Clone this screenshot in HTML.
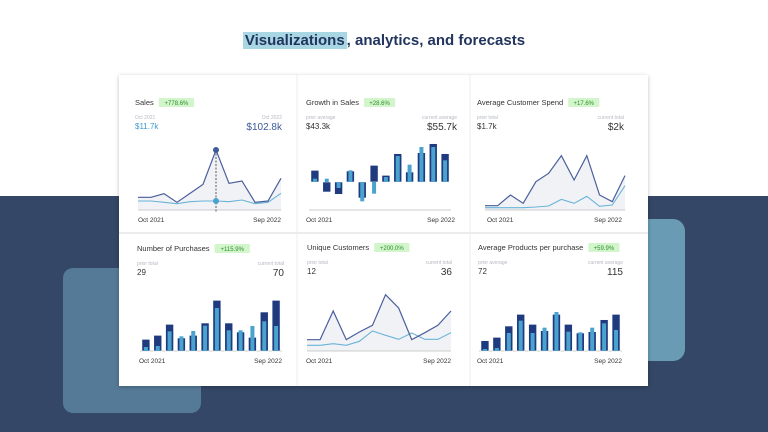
<!DOCTYPE html>
<html><head><meta charset="utf-8"><style>
*{margin:0;padding:0;box-sizing:border-box}
body{width:768px;height:432px;overflow:hidden;position:relative;background:#fff;font-family:"Liberation Sans",sans-serif}
.abs{position:absolute}
</style></head><body>
<div class="abs" style="left:0;top:196px;width:768px;height:236px;background:#344766"></div>
<div class="abs" style="left:63px;top:268px;width:138px;height:145px;background:#557a98;border-radius:10px"></div>
<div class="abs" style="left:600px;top:219px;width:85px;height:142px;background:#6a9bb5;border-radius:12px"></div>
<div class="abs" style="left:0;top:32px;width:768px;text-align:center;font-size:15px;font-weight:bold;color:#22355e"><span style="background:#a9d6e3;padding:0 2px">Visualizations</span>, analytics, and forecasts</div>
<div class="abs" style="left:119px;top:75px;width:529px;height:311px;background:#fff;box-shadow:0 1px 4px rgba(0,0,0,.25)"></div>
<svg class="abs" style="left:0;top:0" width="768" height="432" id="svg">
<line x1="297" y1="75" x2="297" y2="386" stroke="#ececec"/>
<line x1="470" y1="75" x2="470" y2="386" stroke="#ececec"/>
<line x1="119" y1="233" x2="648" y2="233" stroke="#ececec" stroke-width="2"/>
</svg>
<script>
const NS="http://www.w3.org/2000/svg";
const svg=document.getElementById('svg');
// Data
const months=["Oct 2021","Nov 2021","Dec 2021","Jan 2022","Feb 2022","Mar 2022","Apr 2022","May 2022","Jun 2022","Jul 2022","Aug 2022","Sep 2022"];
const salesCurrent=[38,38,49,23,50,77,180,80,87,23,27,95];
const salesPrior=[27,27,23,19,25,27,27,25,30,19,23,50];
const growthCurrent=[35,-30,-37,33,-48,50,20,85,30,88,115,85];
const growthPrior=[10,10,-18,35,-58,-35,15,78,52,105,105,65];
const spendCurrent=[13,13,45,20,85,110,163,90,163,45,25,103];
const spendPrior=[7,7,7,7,9,12,32,20,41,11,15,73];
const purchCurrent=[35,47,80,39,47,84,152,84,57,41,117,152];
const purchPrior=[12,15,59,44,60,76,129,62,62,75,89,75];
const custCurrent=[34,34,120,34,57,77,169,129,34,55,77,120];
const custPrior=[17,17,22,17,29,60,47,35,54,35,35,55];
const prodCurrent=[31,41,75,110,80,61,110,80,54,58,94,110];
const prodPrior=[6,9,54,91,54,70,117,58,56,70,83,63];

function el(tag,attrs,name,text){const e=document.createElementNS(NS,tag);for(const k in attrs)e.setAttribute(k,attrs[k]);


if(text!==undefined)e.textContent=text;svg.appendChild(e);return e;}

function header(x,y,right,title,badge,lab1,v1,lab2,v2,c1,c2,big){
  const t=el('text',{x:x,y:y,'font-size':7.5,fill:'#333'},'panel-title',title);
  const w=t.getComputedTextLength();
  const bw=badge.length*4.2+6;
  el('rect',{x:x+w+5,y:y-7,width:bw,height:9,fill:'#d3f5cc',rx:1},'change-badge');
  el('text',{x:x+w+5+bw/2,y:y,'font-size':6,fill:'#2c8f2c','text-anchor':'middle'},'change-badge-text',badge);
  el('text',{x:x,y:y+14,'font-size':5,fill:'#b5b9c2'},'prior-label',lab1);
  el('text',{x:x,y:y+24,'font-size':8,fill:c1||'#333'},'prior-value',v1);
  el('text',{x:right,y:y+14,'font-size':5,fill:'#b5b9c2','text-anchor':'end'},'current-label',lab2);
  el('text',{x:right,y:y+25,'font-size':big||10,fill:c2||'#333','text-anchor':'end'},'current-value',v2);
}
function axisLabels(x0,x1,y){
  el('text',{x:x0,y:y,'font-size':6.5,fill:'#333'},'x-axis-start-label',months[0]);
  el('text',{x:x1,y:y,'font-size':6.5,fill:'#333','text-anchor':'end'},'x-axis-end-label',months[11]);
}
function linePanel(x0,x1,base,scale,cur,pri,name,hi){
  const xs=i=>x0+(x1-x0)*i/(cur.length-1);
  const ys=v=>base-v*scale;
  let d='M'+xs(0)+','+base;cur.forEach((v,i)=>d+=' L'+xs(i)+','+ys(v));d+=' L'+xs(cur.length-1)+','+base+'Z';
  el('path',{d:d,fill:'#f1f2f6'},name+'-area');
  el('line',{x1:x0,y1:base,x2:x1,y2:base,stroke:'#bbb','stroke-width':0.8},name+'-baseline');
  el('polyline',{points:pri.map((v,i)=>xs(i)+','+ys(v)).join(' '),fill:'none',stroke:'#6ab4d8','stroke-width':1.1},name+'-prior-line');
  el('polyline',{points:cur.map((v,i)=>xs(i)+','+ys(v)).join(' '),fill:'none',stroke:'#4a5f9c','stroke-width':1.2},name+'-current-line');
  if(hi!==undefined){
    el('line',{x1:xs(hi),y1:ys(cur[hi]),x2:xs(hi),y2:base+2,stroke:'#333','stroke-dasharray':'2,1.5','stroke-width':0.8},name+'-hover-line');
    el('circle',{cx:xs(hi),cy:ys(cur[hi]),r:3,fill:'#3d5a9a'},name+'-hover-point-current');
    el('circle',{cx:xs(hi),cy:ys(pri[hi]),r:3,fill:'#4aa3cf'},name+'-hover-point-prior');
  }
}
function barPanel(x0,x1,base,scale,cur,pri,name,axisY){
  const n=cur.length,step=(x1-x0)/n;
  if(axisY!==undefined)el('line',{x1:x0,y1:axisY,x2:x1,y2:axisY,stroke:'#bbb','stroke-width':0.8},name+'-axis');
  else el('line',{x1:x0,y1:base,x2:x1,y2:base,stroke:'#bbb','stroke-width':0.8},name+'-axis');
  cur.forEach((v,i)=>{
    const cx=x0+step*(i+0.5);const h=v*scale;
    el('rect',{x:cx-4,y:Math.min(base,base-h),width:8,height:Math.abs(h),fill:'#1f3a7e',stroke:'#fff','stroke-width':0.6},name+'-bar-current');
  });
  pri.forEach((v,i)=>{
    const cx=x0+step*(i+0.5);const h=v*scale;
    el('rect',{x:cx-2,y:Math.min(base,base-h),width:4,height:Math.abs(h),fill:'#4aa3cf'},name+'-bar-prior');
  });
}
// Row 1
header(135,105,282,'Sales','+778.6%','Oct 2021','$11.7k','Oct 2022','$102.8k','#3c9ad0','#3d5a9a');
linePanel(138,281,210,60/180,salesCurrent,salesPrior,'sales',6);
axisLabels(138,281,222);
header(306,105,457,'Growth in Sales','+28.6%','prior average','$43.3k','current average','$55.7k');
barPanel(309,451,182,1/3,growthCurrent,growthPrior,'growth',210);
axisLabels(306,455,222);
header(477,105,624,'Average Customer Spend','+17.6%','prior total','$1.7k','current total','$2k');
linePanel(485,625,210,1/3,spendCurrent,spendPrior,'spend');
axisLabels(487,622,222);
// Row 2
header(137,251,284,'Number of Purchases','+115.9%','prior total','29','current total','70');
barPanel(140,282,351,1/3,purchCurrent,purchPrior,'purchases');
axisLabels(139,282,363);
header(307,250,452,'Unique Customers','+200.0%','prior total','12','current total','36');
linePanel(307,451,351,1/3,custCurrent,custPrior,'customers');
axisLabels(306,451,363);
header(478,250,623,'Average Products per purchase','+59.9%','prior average','72','current average','115');
barPanel(479,622,351,1/3,prodCurrent,prodPrior,'products');
axisLabels(477,622,363);
</script>
</body></html>
